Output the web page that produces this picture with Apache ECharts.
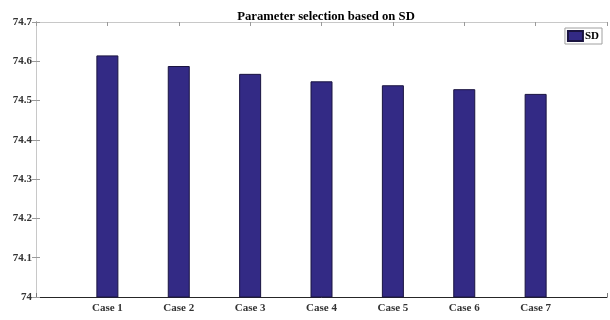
<!DOCTYPE html>
<html>
<head>
<meta charset="utf-8">
<script src="https://cdn.jsdelivr.net/npm/echarts@6/dist/echarts.min.js"></script>
<style>
  html, body { margin: 0; padding: 0; background: #fff; }
  #chart { width: 610px; height: 320px; }
</style>
</head>
<body>
<div id="chart"></div>
<script>
// Cases compared and the SD-based score for each
const categories = ['Case 1', 'Case 2', 'Case 3', 'Case 4', 'Case 5', 'Case 6', 'Case 7'];
const sdValues = [74.615, 74.588, 74.568, 74.549, 74.539, 74.529, 74.517];
const yTicks = [74, 74.1, 74.2, 74.3, 74.4, 74.5, 74.6, 74.7];

const serif = '"Liberation Serif", "DejaVu Serif", serif';
const darkAxis = '#262626';
const lightAxis = '#c8c8c8';

const chart = echarts.init(document.getElementById('chart'));

// Bars sit at positions 1..7 on a 0..8 axis
const barData = categories.map((c, i) => [i + 1, sdValues[i]]);

chart.setOption({
  animation: false,
  title: {
    text: 'Parameter selection based on SD',
    left: 321, textAlign: 'center', top: 5,
    textStyle: { fontFamily: serif, fontWeight: 'bold', fontSize: 12.7, color: '#000' }
  },
  legend: {
    right: 8, top: 28,
    itemWidth: 15, itemHeight: 10, itemGap: 2,
    padding: [2, 3, 2, 2],
    borderColor: '#a0a0a0', borderWidth: 1, borderRadius: 0,
    backgroundColor: '#fff',
    textStyle: { fontFamily: serif, fontWeight: 'bold', fontSize: 11, color: '#000', padding: [0, 0, 0, -3] },
    data: [{ name: 'SD', icon: 'rect' }]
  },
  grid: { left: 36, right: 3, top: 22, bottom: 23, containLabel: false },
  xAxis: [{
    type: 'value', min: 0, max: 8, interval: 1, position: 'bottom',
    axisLine: { show: true, lineStyle: { color: darkAxis, width: 1 } },
    axisTick: { show: true, inside: true, length: 4, lineStyle: { color: '#7a7a7a' } },
    splitLine: { show: false },
    axisLabel: {
      margin: 6,
      fontFamily: serif, fontWeight: 'bold', fontSize: 11, color: '#333',
      formatter: v => categories[v - 1] || ''
    }
  }, {
    type: 'value', min: 0, max: 8, interval: 1, position: 'top',
    axisLine: { show: true, lineStyle: { color: lightAxis, width: 1 } },
    axisTick: { show: true, inside: true, length: 4, lineStyle: { color: '#9a9a9a' } },
    splitLine: { show: false },
    axisLabel: { show: false }
  }],
  yAxis: [{
    type: 'value', min: yTicks[0], max: yTicks[yTicks.length - 1], interval: 0.1,
    position: 'left',
    axisLine: { show: true, lineStyle: { color: darkAxis, width: 1 } },
    axisTick: { show: true, inside: true, length: 4, lineStyle: { color: '#9a9a9a' } },
    splitLine: { show: false },
    axisLabel: {
      margin: 4,
      fontFamily: serif, fontWeight: 'bold', fontSize: 11, color: '#333',
      formatter: v => String(+v.toFixed(1))
    }
  }, {
    type: 'value', min: yTicks[0], max: yTicks[yTicks.length - 1], interval: 0.1,
    position: 'right',
    axisLine: { show: true, lineStyle: { color: lightAxis, width: 1 } },
    axisTick: { show: true, inside: true, length: 4, lineStyle: { color: '#9a9a9a' } },
    splitLine: { show: false },
    axisLabel: { show: false }
  }],
  series: [{
    name: 'SD',
    type: 'bar',
    xAxisIndex: 0, yAxisIndex: 0,
    barWidth: 22,
    data: barData,
    itemStyle: { color: '#332a85', borderColor: '#1a1440', borderWidth: 1 }
  }]
});
</script>
</body>
</html>
